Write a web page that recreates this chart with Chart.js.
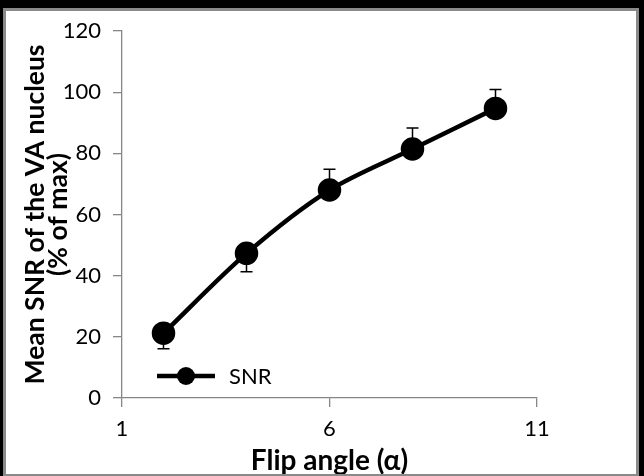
<!DOCTYPE html>
<html>
<head>
<meta charset="utf-8">
<script src="https://cdn.jsdelivr.net/npm/chart.js@4"></script>
<style>
  html, body { margin: 0; padding: 0; background: #000; }
  #bg { position: absolute; left: 6px; top: 11px; width: 630px; height: 463px; background: #fff; }
  #wrap { position: absolute; left: 0; top: 0; width: 644px; height: 476px; }
  #frame { position: absolute; left: 3px; top: 8px; width: 636px; height: 469px; box-sizing: border-box;
           border: 3px solid #8a8a8a; pointer-events: none; }
</style>
</head>
<body>
<div id="bg"></div>
<div id="wrap"><canvas id="myChart" width="644" height="476"></canvas></div>
<div id="frame"></div>
<script>
// data
const flipAngles = [2, 4, 6, 8, 10];
const snrMean = [21.2, 47.3, 68.0, 81.4, 94.7];
const errorMinus = [5.1, 6.0, 0, 0, 0];
const errorPlus = [0, 0, 6.8, 6.9, 6.2];
const xTicks = [1, 6, 11];
const yTicks = [0, 20, 40, 60, 80, 100, 120];

const FONT = 'Lato, "Open Sans", sans-serif';
const AXIS_GREY = '#868686';

// error bars, drawn under the markers
const errorBars = {
    id: 'errorBars',
    beforeDatasetsDraw(chart) {
        const ctx = chart.ctx;
        const xs = chart.scales.x, ys = chart.scales.y;
        ctx.save();
        ctx.strokeStyle = '#000';
        ctx.lineWidth = 1.5;
        flipAngles.forEach((fa, i) => {
            const px = xs.getPixelForValue(fa);
            const ends = [];
            if (errorMinus[i]) ends.push(snrMean[i] - errorMinus[i]);
            if (errorPlus[i]) ends.push(snrMean[i] + errorPlus[i]);
            ends.forEach(v => {
                const py = ys.getPixelForValue(v);
                ctx.beginPath();
                ctx.moveTo(px, ys.getPixelForValue(snrMean[i]));
                ctx.lineTo(px, py);
                ctx.moveTo(px - 6, py);
                ctx.lineTo(px + 6, py);
                ctx.stroke();
            });
        });
        ctx.restore();
    }
};

// legend sitting inside the plot, lower left
const innerLegend = {
    id: 'innerLegend',
    afterDraw(chart) {
        const ctx = chart.ctx;
        const ds = chart.data.datasets[0];
        const y = 376;
        ctx.save();
        ctx.strokeStyle = '#000';
        ctx.lineWidth = 4.5;
        ctx.beginPath();
        ctx.moveTo(157, y);
        ctx.lineTo(215, y);
        ctx.stroke();
        ctx.fillStyle = '#000';
        ctx.beginPath();
        ctx.arc(186, y, 9, 0, Math.PI * 2);
        ctx.fill();
        ctx.font = '22px ' + FONT;
        ctx.textBaseline = 'middle';
        ctx.fillText(ds.label, 229, y + 1);
        ctx.restore();
    }
};

const ctx = document.getElementById('myChart').getContext('2d');
new Chart(ctx, {
    type: 'line',
    data: {
        datasets: [{
            label: 'SNR',
            data: flipAngles.map((x, i) => ({ x: x, y: snrMean[i] })),
            borderColor: '#000',
            backgroundColor: '#000',
            borderWidth: 4.5,
            pointRadius: 9.5,
            pointHoverRadius: 9.5,
            tension: 0.3
        }]
    },
    options: {
        responsive: false,
        animation: false,
        layout: { padding: { left: 0, top: 31, right: 107, bottom: 0 } },
        plugins: { legend: { display: false }, tooltip: { enabled: false } },
        scales: {
            x: {
                type: 'linear',
                min: 1, max: 11,
                afterBuildTicks: s => { s.ticks = xTicks.map(v => ({ value: v })); },
                afterFit: s => { s.height = 78; },
                grid: { drawOnChartArea: false, tickLength: 9, color: AXIS_GREY, lineWidth: 1.3 },
                border: { color: AXIS_GREY, width: 1.3 },
                ticks: { color: '#000', font: { family: FONT, size: 22 }, padding: 9, maxRotation: 0 },
                title: { display: true, text: 'Flip angle (\u03b1)', color: '#000',
                         font: { family: FONT, size: 28, weight: 'bold', lineHeight: 1.1 }, padding: { top: 0, bottom: 0 } }
            },
            y: {
                min: 0, max: 120,
                afterBuildTicks: s => { s.ticks = yTicks.map(v => ({ value: v })); },
                afterFit: s => { s.width = 122; },
                grid: { drawOnChartArea: false, tickLength: 9, color: AXIS_GREY, lineWidth: 1.3 },
                border: { color: AXIS_GREY, width: 1.3 },
                ticks: { color: '#000', font: { family: FONT, size: 22 }, padding: 12 },
                title: { display: true, text: ['Mean SNR of the VA nucleus', '(% of max)'], color: '#000',
                         font: { family: FONT, size: 26.5, weight: 'bold', lineHeight: 0.87 }, padding: { top: 23.5 } }
            }
        }
    },
    plugins: [errorBars, innerLegend]
});
</script>
</body>
</html>
